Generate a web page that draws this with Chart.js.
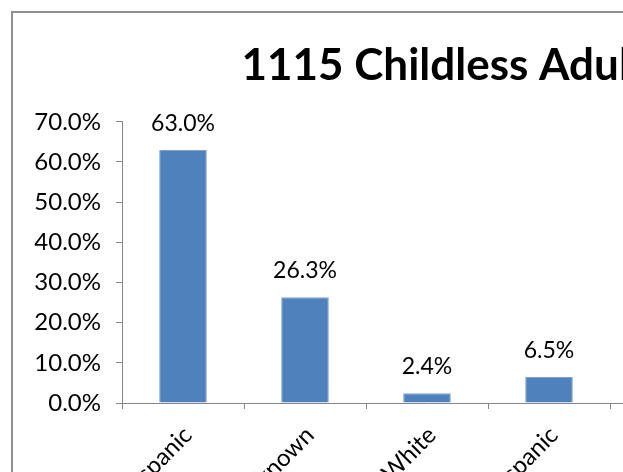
<!DOCTYPE html>
<html>
<head>
<meta charset="utf-8">
<title>1115 Childless Adults</title>
<script src="https://cdn.jsdelivr.net/npm/chart.js@4.4.1/dist/chart.umd.min.js"></script>
<style>
  html, body { margin: 0; padding: 0; width: 623px; height: 472px; overflow: hidden; background: #fff; }
  .chart-frame { position: absolute; left: 11px; top: 11px; border: 2px solid #8f8f8f; background: #fff; }
  canvas { display: block; }
</style>
</head>
<body>
<div class="chart-frame">
  <canvas id="ethnicityChart" width="881" height="520"></canvas>
</div>
<script>
// Share of 1115 childless adults by ethnicity group
const categories = ['Non-Hispanic', 'Unknown', 'Hispanic White', 'Other Hispanic', 'Other'];
const shares = [63.0, 26.3, 2.4, 6.5, 1.8];
const yTicks = [0, 10, 20, 30, 40, 50, 60, 70];

const FONT = 'Lato, "Open Sans", sans-serif';
const AXIS_GRAY = '#868686';
const BAR_BLUE = '#4f81bd';

Chart.defaults.font.family = FONT;
Chart.defaults.color = '#000';

// Writes the percentage above each bar
const valueLabels = {
  id: 'valueLabels',
  afterDatasetsDraw(chart) {
    const ctx = chart.ctx;
    const meta = chart.getDatasetMeta(0);
    ctx.save();
    ctx.font = '23px ' + FONT;
    ctx.fillStyle = '#000';
    ctx.textAlign = 'center';
    ctx.textBaseline = 'alphabetic';
    meta.data.forEach((bar, i) => {
      ctx.fillText(shares[i].toFixed(1) + '%', bar.x, bar.y - 19);
    });
    ctx.restore();
  }
};

const ctx = document.getElementById('ethnicityChart');
new Chart(ctx, {
  type: 'bar',
  data: {
    labels: categories,
    datasets: [{
      label: 'Percent of Childless Adults',
      data: shares,
      backgroundColor: BAR_BLUE,
      borderColor: '#7da2d0',
      borderWidth: 1,
      categoryPercentage: 1,
      barPercentage: 0.39
    }]
  },
  options: {
    responsive: false,
    animation: false,
    layout: { padding: 0 },
    plugins: {
      title: {
        display: true,
        text: '1115 Childless Adults',
        color: '#000',
        font: { size: 44, weight: 'bold' },
        padding: { top: 26, bottom: 30 }
      },
      legend: {
        display: true,
        position: 'right',
        maxWidth: 162,
        labels: { font: { size: 18 }, boxWidth: 12 }
      },
      tooltip: { enabled: false }
    },
    scales: {
      x: {
        grid: { drawOnChartArea: false, drawTicks: true, tickLength: 6, color: AXIS_GRAY, offset: true },
        border: { color: AXIS_GRAY, width: 1 },
        ticks: { minRotation: 45, maxRotation: 45, autoSkip: false, padding: 12, labelOffset: 5, font: { size: 24 } },
        afterFit: function(scale) { scale.height = 130; }
      },
      y: {
        min: yTicks[0],
        max: yTicks[yTicks.length - 1],
        afterBuildTicks: function(scale) {
          scale.ticks = yTicks.map(v => ({ value: v }));
        },
        ticks: {
          padding: 15,
          font: { size: 24 },
          callback: function(value) { return value.toFixed(1) + '%'; }
        },
        grid: { drawOnChartArea: false, tickLength: 6, color: AXIS_GRAY },
        border: { color: AXIS_GRAY, width: 1 },
        afterFit: function(scale) { scale.width = 109; }
      }
    }
  },
  plugins: [valueLabels]
});
</script>
</body>
</html>
